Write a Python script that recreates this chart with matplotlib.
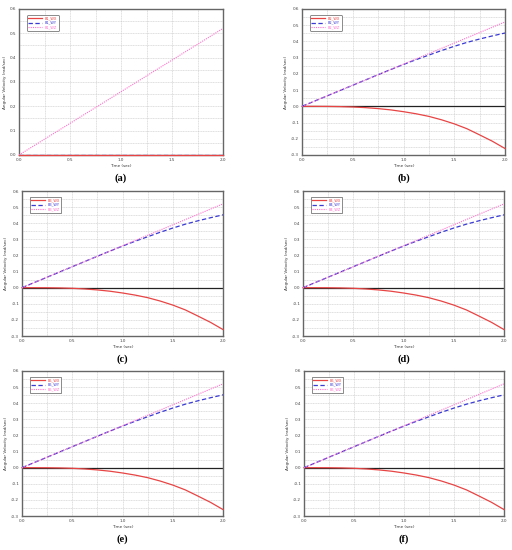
import matplotlib
matplotlib.use("Agg")
import matplotlib.pyplot as plt
from matplotlib.ticker import MultipleLocator

# time samples (sec)
t = [0.0, 0.125, 0.25, 0.375, 0.5, 0.625, 0.75, 0.875, 1.0,
     1.125, 1.25, 1.375, 1.5, 1.625, 1.75, 1.875, 2.0]

# body 1: only the z component moves
b1_wx = [0.0] * 17
b1_wy = [0.0] * 17
b1_wz = [0.0, 0.0325, 0.065, 0.0975, 0.13, 0.1625, 0.195, 0.2275, 0.26,
         0.2925, 0.325, 0.3575, 0.39, 0.4225, 0.455, 0.4875, 0.52]

# bodies 2..6 (they are practically identical)
bn_wx = [0.0, -0.0001, -0.0005, -0.0017, -0.004, -0.008, -0.014, -0.022, -0.033,
         -0.046, -0.062, -0.083, -0.108, -0.138, -0.176, -0.215, -0.26]
bn_wy = [0.0, 0.0325, 0.065, 0.0975, 0.13, 0.1625, 0.195, 0.227, 0.258,
         0.288, 0.316, 0.344, 0.37, 0.394, 0.415, 0.434, 0.452]
bn_wz = b1_wz

panel_names = ["(a)", "(b)", "(c)", "(d)", "(e)", "(f)"]
bodies = ["B1", "B2", "B3", "B4", "B5", "B6"]
colors = ["#e84444", "#3a3ad4", "#ff70cc"]

# axes boxes in pixels: left, top, right, bottom
boxes = [(19, 9, 223, 155), (302, 9, 505, 155),
         (22, 191, 223, 336), (303, 191, 504, 336),
         (22, 371, 223, 516), (304, 371, 504, 516)]

W, H = 512, 550
fig = plt.figure(figsize=(W / 100, H / 100), dpi=100)

for i in range(6):
    l, tp, r, b = boxes[i]
    ax = fig.add_axes([l / W, 1 - b / H, (r - l) / W, (b - tp) / H])
    if i == 0:
        wx, wy, wz = b1_wx, b1_wy, b1_wz
        ax.set_ylim(0.0, 0.6)
    else:
        wx, wy, wz = bn_wx, bn_wy, bn_wz
        ax.set_ylim(-0.3, 0.6)
        ax.axhline(0, color="#222222", lw=0.9, zorder=2)
    ax.set_xlim(0.0, 2.0)

    ax.plot(t, wx, color=colors[0], lw=0.9, ls="-", label=bodies[i] + "_WX", zorder=3,
            clip_on=False)
    ax.plot(t, wy, color=colors[1], lw=0.9, ls=(0, (3.5, 2)), label=bodies[i] + "_WY", zorder=3)
    ax.plot(t, wz, color=colors[2], lw=0.8, ls=(0, (1, 1)), label=bodies[i] + "_WZ", zorder=3)

    ax.xaxis.set_major_locator(MultipleLocator(0.5))
    ax.xaxis.set_minor_locator(MultipleLocator(0.25))
    ax.yaxis.set_major_locator(MultipleLocator(0.1))
    ax.yaxis.set_minor_locator(MultipleLocator(0.05))
    ax.xaxis.set_major_formatter(plt.FormatStrFormatter("%.1f"))
    ax.yaxis.set_major_formatter(plt.FormatStrFormatter("%.1f"))
    ax.grid(which="both", color="#c8c8c8", lw=0.4, ls=(0, (2, 1)))
    ax.tick_params(which="both", length=0, labelsize=3, pad=2, colors="#444444")
    for s in ax.spines.values():
        s.set_color("#666666")
        s.set_linewidth(1.0)

    ax.set_xlabel("Time (sec)", fontsize=3, labelpad=1.5, color="#333333")
    ax.set_ylabel("Angular Velocity (rad/sec)", fontsize=3, labelpad=2, color="#333333")

    leg = ax.legend(loc="upper left", fontsize=2.5, handlelength=4, borderpad=0.4,
                    labelspacing=0.1, bbox_to_anchor=(0.03, 0.97), fancybox=True,
                    edgecolor="#777777", framealpha=1)
    leg.get_frame().set_linewidth(0.6)
    for txt, c in zip(leg.get_texts(), colors):
        txt.set_color(c)

    fig.text((l + r) / 2 / W, 1 - (b + 23) / H, panel_names[i], ha="center", va="center",
             fontsize=7.5, family="Liberation Serif", fontweight="bold")

fig.savefig("out.png", dpi=100)
